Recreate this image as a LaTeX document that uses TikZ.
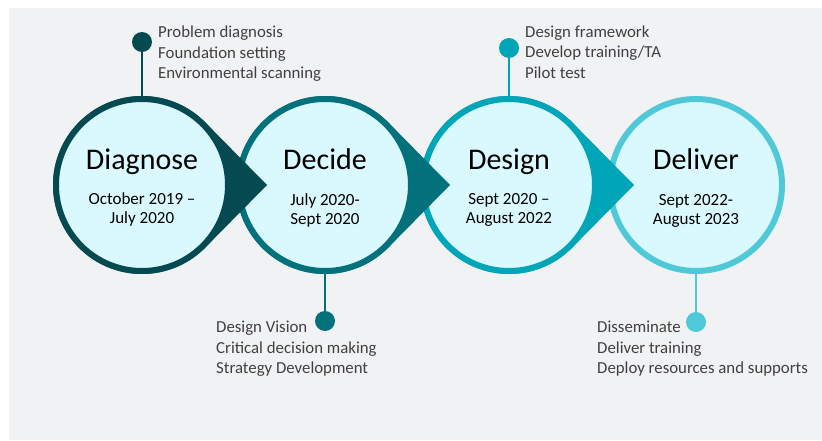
\documentclass[tikz,border=0pt]{standalone}
\usepackage{fontspec}
\setmainfont{Carlito}
\usepackage{tikz}
\usepackage{xcolor}
\usetikzlibrary{calc}

\definecolor{bgray}{HTML}{F1F2F4}
\definecolor{inner}{HTML}{DAF9FE}
\definecolor{cdiag}{HTML}{044A50}
\definecolor{cdeci}{HTML}{03717B}
\definecolor{cdesi}{HTML}{00A5B8}
\definecolor{cdeli}{HTML}{4FC9D7}
\definecolor{txt}{HTML}{404040}

\begin{document}
\begin{tikzpicture}[x=1pt, y=1pt,
    stage/.style={circle, draw=#1, fill=inner, line width=6pt, minimum size=172pt, inner sep=0pt},
    dot/.style={circle, fill=#1, minimum size=20pt, inner sep=0pt},
    pin/.style={draw=#1, line width=2pt},
    title/.style={font=\fontsize{30}{32}\selectfont, anchor=base},
    dates/.style={font=\fontsize{17}{19}\selectfont, align=center},
    items/.style={font=\fontsize{16.8}{20.5}\selectfont, text=txt, align=left, inner sep=0pt, anchor=west}]

  \useasboundingbox (0,0) rectangle (822,440);
  \fill[bgray] (9,0) rectangle (822,432);

  \coordinate (diag) at (142,255);
  \coordinate (deci) at (325,255);
  \coordinate (desi) at (509,255);
  \coordinate (deli) at (696,255);

  % circles, last one first so every tip lies over the next ring
  \node[stage=cdeli] (deliC) at (deli) {};

  \fill[cdesi] ($(desi)+(125,0)$) -- ($(desi)+(45:89)$) arc[start angle=45, end angle=315, radius=89] -- cycle;
  \node[stage=cdesi] (desiC) at (desi) {};

  \fill[cdeci] ($(deci)+(125,0)$) -- ($(deci)+(45:89)$) arc[start angle=45, end angle=315, radius=89] -- cycle;
  \node[stage=cdeci] (deciC) at (deci) {};

  \fill[cdiag] ($(diag)+(125,0)$) -- ($(diag)+(45:89)$) arc[start angle=45, end angle=315, radius=89] -- cycle;
  \node[stage=cdiag] (diagC) at (diag) {};

  % titles and dates
  \node[title] (diagT) at (142,271) {Diagnose};
  \node[dates] (diagD) at (142,231) {October 2019 --\\July 2020};
  \node[title] (deciT) at (325,271) {Decide};
  \node[dates] (deciD) at (325,230) {July 2020-\\Sept 2020};
  \node[title] (desiT) at (509,271) {Design};
  \node[dates] (desiD) at (509,230) {Sept 2020 --\\August 2022};
  \node[title] (deliT) at (696,271) {Deliver};
  \node[dates] (deliD) at (696,229) {Sept 2022-\\August 2023};

  % pins
  \node[dot=cdiag] (diagdot) at (142,398) {};
  \node[dot=cdeci] (decidot) at (325,119) {};
  \node[dot=cdesi] (desidot) at (509,392) {};
  \node[dot=cdeli] (delidot) at (696,118) {};
  \draw[pin=cdiag] (diagC.north) -- (diagdot);
  \draw[pin=cdeci] (deciC.south) -- (decidot);
  \draw[pin=cdesi] (desiC.north) -- (desidot);
  \draw[pin=cdeli] (deliC.south) -- (delidot);

  \node[items] (diagL) at (158,386) {Problem diagnosis\\Foundation setting\\Environmental scanning};
  \node[items] (deciL) at (216,91) {Design Vision\\Critical decision making\\Strategy Development};
  \node[items] (desiL) at (525,388) {Design framework\\Develop training/TA\\Pilot test};
  \node[items] (deliL) at (597,91) {Disseminate\\Deliver training\\Deploy resources and supports};
\end{tikzpicture}
\end{document}
